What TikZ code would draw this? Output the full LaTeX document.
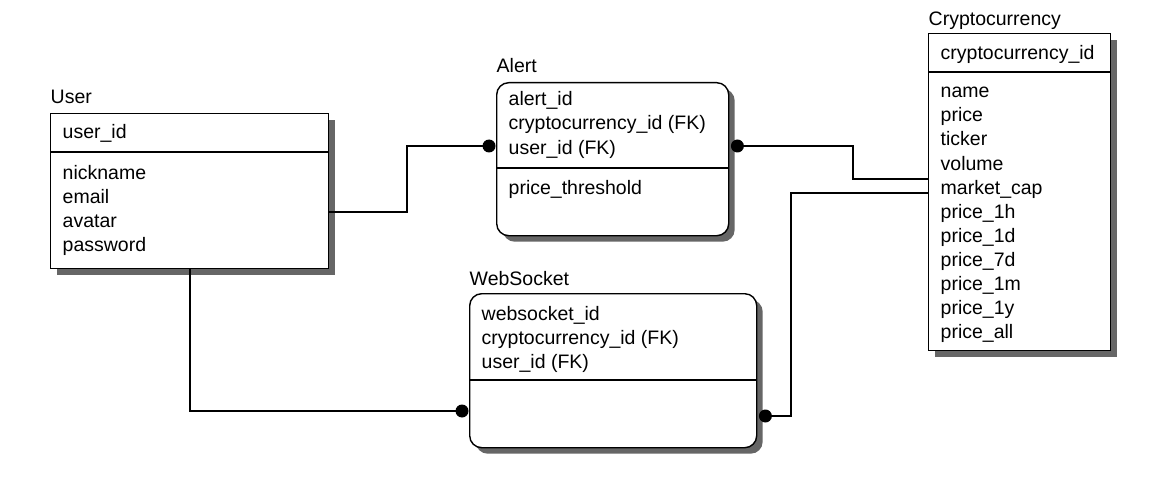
\documentclass[tikz,border=0pt]{standalone}
\usepackage{fontspec}
\setmainfont{Liberation Sans}
\usetikzlibrary{shadows}
\begin{document}
\begin{tikzpicture}[x=1pt,y=-1pt,line width=1.4pt,
  every node/.style={font=\fontsize{19.5}{24}\selectfont},
  txt/.style={anchor=base west,inner sep=0pt},
  ent/.style={draw,fill=white,anchor=north west,inner sep=0pt,
    drop shadow={shadow xshift=6pt,shadow yshift=-6pt,fill=black!60,opacity=1}},
  rent/.style={ent,rounded corners=12pt},
  dotc/.style={circle,fill=black,inner sep=0pt,minimum size=13pt,draw=none}]
\useasboundingbox (0,0) rectangle (1167,492);

% User
\node[ent,minimum width=278pt,minimum height=155pt] (user) at (50,113) {};
\node[txt] (tuser) at (50,104) {User};
\draw (user.west |- 0,152) -- (user.east |- 0,152);
\node[txt] (uid) at (62,139) {user\_id};
\foreach \t [count=\i from 0] in {nickname,email,avatar,password}
  \node[txt] (u\i) at (62,179+24*\i) {\t};

% Alert
\node[rent,minimum width=232pt,minimum height=153pt] (alert) at (496,82) {};
\node[txt] (talert) at (496,73) {Alert};
\draw (alert.west |- 0,168) -- (alert.east |- 0,168);
\foreach \t [count=\i from 0] in {alert\_id,cryptocurrency\_id (FK),user\_id (FK)}
  \node[txt] (a\i) at (508,106+24*\i) {\t};
\node[txt] (a3) at (508,194) {price\_threshold};

% Cryptocurrency
\node[ent,minimum width=182pt,minimum height=317pt] (crypto) at (928,33) {};
\node[txt] (tcrypto) at (928,26) {Cryptocurrency};
\draw (crypto.west |- 0,72) -- (crypto.east |- 0,72);
\node[txt] (cid) at (940,60) {cryptocurrency\_id};
\foreach \t [count=\i from 0] in {name,price,ticker,volume,market\_cap,price\_1h,price\_1d,price\_7d,price\_1m,price\_1y,price\_all}
  \node[txt] (c\i) at (940,98+24*\i) {\t};

% WebSocket
\node[rent,minimum width=287pt,minimum height=154pt] (ws) at (469,293) {};
\node[txt] (tws) at (469,285) {WebSocket};
\draw (ws.west |- 0,380) -- (ws.east |- 0,380);
\foreach \t [count=\i from 0] in {websocket\_id,cryptocurrency\_id (FK),user\_id (FK)}
  \node[txt] (w\i) at (481,320+24*\i) {\t};

% connectors
\coordinate (k1) at (407,212);
\coordinate (k2) at (853,146);
\coordinate (k3) at (791,193);
\coordinate (k4) at (190,411);
\node[dotc] (d1) at ([xshift=-7pt]alert.west |- 0,146) {};
\node[dotc] (d2) at ([xshift=8pt]alert.east |- 0,146) {};
\node[dotc] (d3) at ([xshift=-7pt]ws.west |- 0,411) {};
\node[dotc] (d4) at ([xshift=8pt]ws.east |- 0,416) {};
\draw (user.east |- k1) -- (k1) |- (d1.center);
\draw (d2.center) -| (k2) |- (crypto.west |- 0,179);
\draw (crypto.west |- k3) -- (k3) |- (d4.center);
\draw (user.south -| k4) -- (k4) -- (d3.center);
\end{tikzpicture}
\end{document}
